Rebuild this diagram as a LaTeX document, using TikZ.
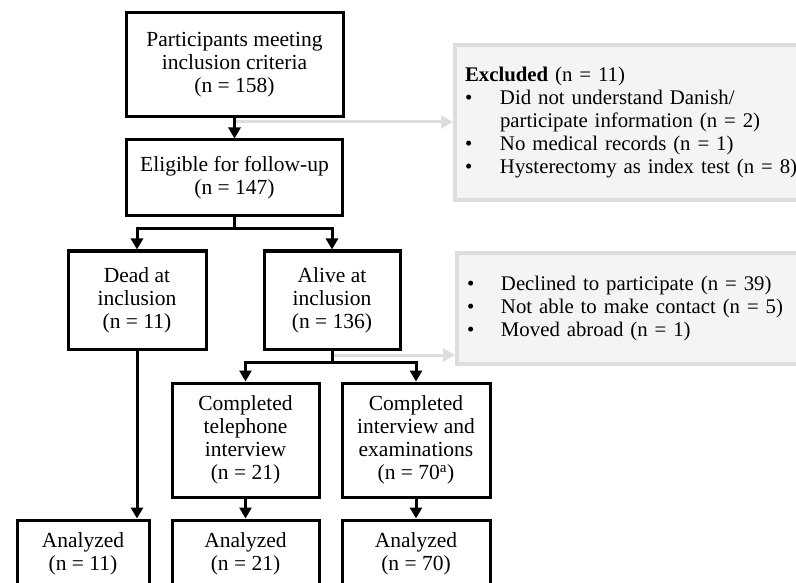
\documentclass[tikz,border=0pt]{standalone}
\usepackage{fontspec}
\setmainfont{Liberation Serif}
\usetikzlibrary{arrows.meta}
\definecolor{greyline}{RGB}{221,221,221}
\definecolor{greyfill}{RGB}{244,244,244}
\begin{document}
\begin{tikzpicture}[x=1pt, y=-1pt,
	every node/.style={font=\fontsize{21.5}{23}\selectfont},
	flowbox/.style={draw=black, line width=3pt, fill=white, rectangle, align=center, inner sep=0pt},
	greybox/.style={draw=greyline, line width=4pt, fill=greyfill, rectangle, anchor=north west, align=left, inner xsep=10pt, inner ysep=0pt, text width=370pt, font=\fontsize{20.8}{23}\selectfont},
	link/.style={line width=3pt},
	arr/.style={line width=3pt, -{Triangle[length=11pt,width=12pt]}},
	greyarr/.style={draw=greyline, line width=3pt, -{Triangle[length=12pt,width=13pt]}}]
	\useasboundingbox (0,0) rectangle (796,583);
	\clip (0,0) rectangle (796,583);

	% Hauptstrang
	\node[flowbox, minimum width=217pt, minimum height=104pt] (part) at (234.5,65) {Participants meeting\\inclusion criteria\\(n = 158)};
	\node[flowbox, minimum width=216pt, minimum height=76pt] (elig) at (234.5,178) {Eligible for follow-up\\(n = 147)};
	\node[flowbox, minimum width=138pt, minimum height=98pt] (dead) at (137,300) {Dead at\\inclusion\\(n = 11)};
	\node[flowbox, minimum width=136pt, minimum height=98pt] (alive) at (332,300) {Alive at\\inclusion\\(n = 136)};
	\node[flowbox, minimum width=147pt, minimum height=114pt] (tel) at (245.5,440) {Completed\\telephone\\interview\\(n = 21)};
	\node[flowbox, minimum width=148pt, minimum height=114pt] (exam) at (416,440) {Completed\\interview and\\examinations\\(n = 70\textsuperscript{a})};

	% Analysierte
	\node[flowbox, minimum width=132pt, minimum height=67pt] (anDead) at (83,553.5) {Analyzed\\(n = 11)};
	\node[flowbox, minimum width=147pt, minimum height=67pt] (anTel) at (245.5,553.5) {Analyzed\\(n = 21)};
	\node[flowbox, minimum width=148pt, minimum height=67pt] (anExam) at (416,553.5) {Analyzed\\(n = 70)};

	% Ausschluesse
	\node[greybox, minimum height=155pt] (excl) at (453,43) {%
		\begin{tabular}{@{}p{35pt}@{}l@{}}
			\multicolumn{2}{@{}l}{\textbf{Excluded} (n = 11)}\\
			\textbullet & Did not understand Danish/\\
			& participate information (n = 2)\\
			\textbullet & No medical records (n = 1)\\
			\textbullet & Hysterectomy as index test (n = 8)
		\end{tabular}};
	\node[greybox, minimum height=111pt] (lost) at (455,251) {%
		\begin{tabular}{@{}p{34pt}@{}l@{}}
			\textbullet & Declined to participate (n = 39)\\
			\textbullet & Not able to make contact (n = 5)\\
			\textbullet & Moved abroad (n = 1)
		\end{tabular}};

	% graue Pfeile
	\coordinate (exclFork) at (234.5,122);
	\coordinate (lostFork) at (332,355);
	\draw[greyarr] (exclFork) -- (excl.west |- exclFork);
	\draw[greyarr] (lostFork) -- (lost.west |- lostFork);

	% Verbindungen
	\draw[arr] (part) -- (elig);
	\coordinate (eligFork) at (234.5,229);
	\draw[link] (elig.south) -- (eligFork);
	\draw[arr] (eligFork) -| (dead.north);
	\draw[arr] (eligFork) -| (alive.north);
	\coordinate (aliveFork) at (332,362);
	\draw[link] (alive.south) -- (aliveFork);
	\draw[arr] (aliveFork) -| (tel.north);
	\draw[arr] (aliveFork) -| (exam.north);
	\draw[arr] (dead.south) -- (dead.south |- anDead.north);
	\draw[arr] (tel) -- (anTel);
	\draw[arr] (exam) -- (anExam);
\end{tikzpicture}
\end{document}
